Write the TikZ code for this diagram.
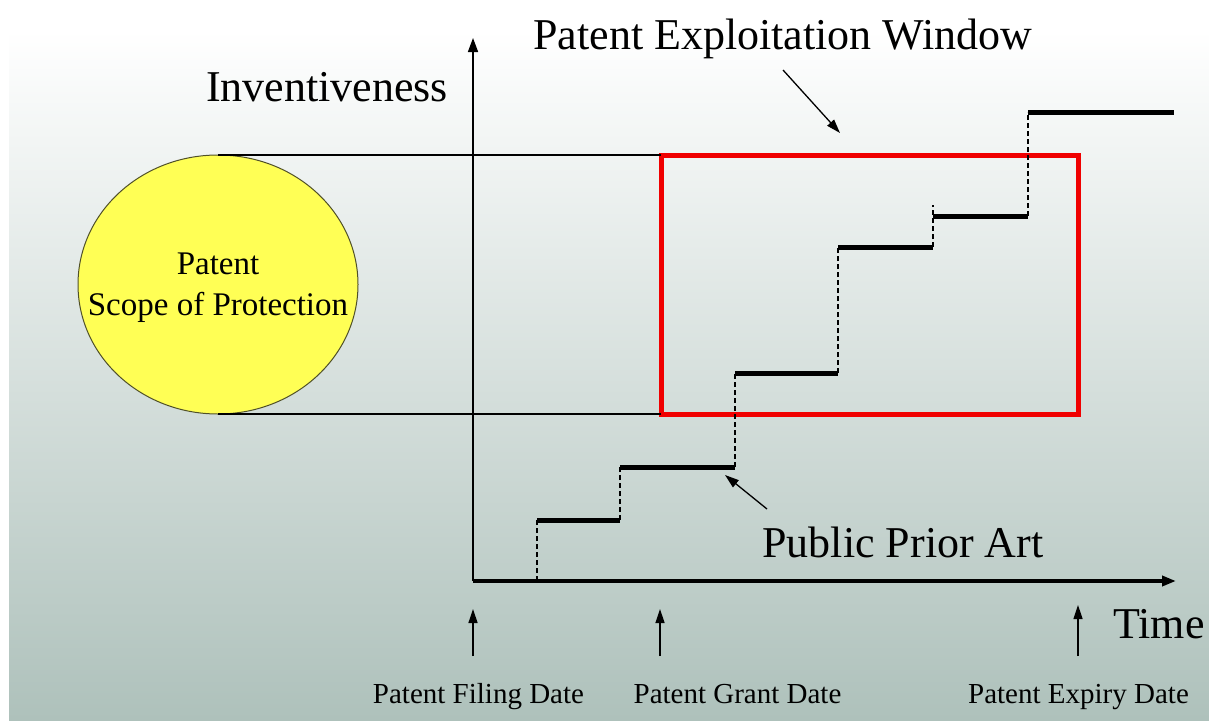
\documentclass[tikz,border=0pt]{standalone}
\usepackage{fontspec}
\setmainfont{Liberation Serif}
\usetikzlibrary{arrows.meta,shapes.geometric}

\definecolor{bgbottom}{RGB}{174,193,187}
\definecolor{discfill}{RGB}{255,255,85}
\definecolor{discline}{RGB}{80,80,40}
\definecolor{winred}{RGB}{240,0,0}

\begin{document}
\begin{tikzpicture}[x=1pt,y=-1pt,
  bigtext/.style={font=\fontsize{44}{48}\selectfont, inner sep=0pt, anchor=base},
  datetext/.style={font=\fontsize{29}{32}\selectfont, inner sep=0pt, anchor=base},
  thinline/.style={line width=1.2pt},
  stepline/.style={line width=5pt},
  riser/.style={line width=1.5pt, dash pattern=on 5pt off 3pt},
  pointer/.style={line width=1.3pt, -{Triangle[length=14pt,width=9pt]}},
  axisline/.style={-{Triangle[length=14pt,width=10pt]}},
]
% canvas and background wash
\useasboundingbox (0,0) rectangle (1209,720);
\fill[white] (0,0) rectangle (1209,720);
\shade[top color=white, bottom color=bgbottom] (9,30) rectangle (1209,720);

% axes
\coordinate (origin) at (473,581);
\coordinate (ytop) at (473,38);
\coordinate (xend) at (1176,581);
\draw[axisline, line width=1.5pt] (origin) -- (ytop);
\draw[axisline, line width=3.5pt] (origin) -- (xend);

% scope of protection disc
\node[ellipse, draw=discline, line width=1pt, fill=discfill,
      minimum width=280pt, minimum height=259pt, inner sep=0pt, outer sep=0pt]
  (scope) at (218,284.5) {};
\node[align=center, inner sep=0pt, font=\fontsize{33}{41}\selectfont]
  (scopetext) at (218,288) {Patent\\Scope of Protection};

% exploitation window
\node[draw=winred, line width=5pt, minimum width=417pt, minimum height=259pt,
      inner sep=0pt, outer sep=0pt] (window) at (869.5,284.5) {};

% projection lines from the disc to the window
\draw[thinline] (scope.north) -- (window.north west);
\draw[thinline] (scope.south) -- (window.south west);

% prior art staircase
\coordinate (a0) at (537,581);
\coordinate (a1) at (537,520);   \coordinate (b1) at (620,520);
\coordinate (a2) at (620,467);   \coordinate (b2) at (735,467);
\coordinate (a3) at (735,373);   \coordinate (b3) at (838,373);
\coordinate (a4) at (838,247);   \coordinate (b4) at (933,247);
\coordinate (a5) at (933,216);   \coordinate (b5) at (1028,216);
\coordinate (a5top) at (933,205);
\coordinate (a6) at (1028,112);  \coordinate (b6) at (1174,112);

\draw[riser] (a0) -- (a1);
\draw[riser] (b1) -- (a2);
\draw[riser] (b2) -- (a3);
\draw[riser] (b3) -- (a4);
\draw[riser] (b4) -- (a5top);
\draw[riser] (b5) -- (a6);

\draw[stepline] (a1) -- (b1);
\draw[stepline] (a2) -- (b2);
\draw[stepline] (a3) -- (b3);
\draw[stepline] (a4) -- (b4);
\draw[stepline] (a5) -- (b5);
\draw[stepline] (a6) -- (b6);

% labels
\node[bigtext] (title) at (783,49) {Patent Exploitation Window};
\node[bigtext] (inv) at (327,101) {Inventiveness};
\node[bigtext] (prior) at (903,557) {Public Prior Art};
\node[bigtext] (time) at (1159,638) {Time};

\coordinate (titletail) at (783,70);
\coordinate (titlehead) at (840,133);
\draw[pointer] (titletail) -- (titlehead);
\coordinate (priortail) at (767,509);
\coordinate (priorhead) at (725,475);
\draw[pointer] (priortail) -- (priorhead);

% date markers
\node[datetext] (filing) at (478.5,703) {Patent Filing Date};
\node[datetext] (grant) at (737.5,703) {Patent Grant Date};
\node[datetext] (expiry) at (1078.5,703) {Patent Expiry Date};

\coordinate (fbase) at (473,656); \coordinate (ftip) at (473,609);
\coordinate (gbase) at (660,656); \coordinate (gtip) at (660,609);
\coordinate (ebase) at (1078,656); \coordinate (etip) at (1078,605);
\draw[pointer] (fbase) -- (ftip);
\draw[pointer] (gbase) -- (gtip);
\draw[pointer] (ebase) -- (etip);
\end{tikzpicture}
\end{document}
